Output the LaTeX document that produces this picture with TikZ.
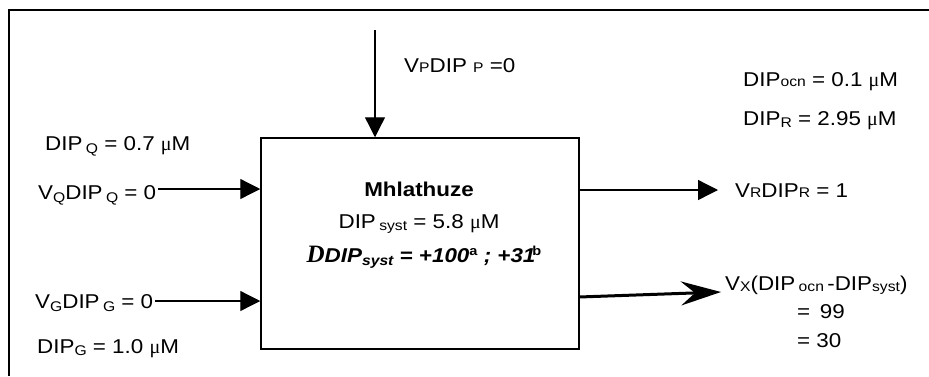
\documentclass[tikz,border=0pt]{standalone}
\usepackage{fontspec}
\setmainfont[FakeStretch=1.12]{Liberation Sans}
\newfontfamily\serifD{Liberation Serif}
\usetikzlibrary{arrows.meta}
\newcommand\sbs[2][3]{\raisebox{-#1pt}{\fontsize{14}{14}\selectfont #2}}
\newcommand\spx[1]{\raisebox{7pt}{\fontsize{13}{13}\selectfont\upshape #1}}
\newcommand\mum{{\serifD μ}M}
\tikzset{
  txt/.style={inner sep=0pt, anchor=base west, font=\fontsize{20}{22}\selectfont},
  ctxt/.style={inner sep=0pt, anchor=base, font=\fontsize{20}{22}\selectfont},
  frame/.style={line width=1.8pt},
  flow/.style={line width=1.3pt, -{Triangle[length=20pt,width=20pt]}},
  bigflow/.style={line width=3pt, -{Stealth[length=40pt,width=24pt,inset=14pt]}},
}
\begin{document}
\begin{tikzpicture}[x=1pt,y=-1pt]
\useasboundingbox (0,0) rectangle (929,376);
% outer frame
\draw[frame] (8,10) -- (929,10);
\draw[frame] (9,10) -- (9,376);
% box
\node[draw, line width=1.5pt, minimum width=318pt, minimum height=211pt, inner sep=0pt] (box) at (420,243.5) {};
\node[ctxt, font=\fontsize{20}{22}\selectfont\bfseries] (name) at (419,196) {Mhlathuze};
\node[ctxt] (syst) at (419,228) {DIP\,\sbs[2]{syst} = 5.8 \mum};
\node[ctxt, font=\fontsize{20}{22}\selectfont\bfseries\itshape] (delta) at (424,262) {{\serifD\fontsize{25}{25}\selectfont D}DIP\sbs[3]{\bfseries\itshape syst} = +100\spx{a} ; +31\kern-3pt\spx{b}};
% top input
\coordinate (ptop) at (375,30);
\draw[flow] (ptop) -- (ptop |- box.north);
\node[txt] (vp) at (404,72) {V{\fontsize{14}{14}\selectfont P}DIP {\fontsize{14}{14}\selectfont P} =0};
% left texts
\node[txt] (dipq) at (45,150) {DIP\,\sbs{Q} = 0.7 \mum};
\node[txt] (vq) at (38,199) {V\sbs{Q}DIP\,\sbs{Q} = 0};
\node[txt] (vg) at (35,308) {V\sbs{G}DIP\,\sbs{G} = 0};
\node[txt] (dipg) at (37,353) {DIP\sbs[2]{G} = 1.0 \mum};
\coordinate (qs) at (158,189);
\coordinate (gs) at (155,301);
\draw[flow] (qs) -- (qs -| box.west);
\draw[flow] (gs) -- (gs -| box.west);
% right texts
\node[txt] (ocn) at (743,86) {DIP{\fontsize{14}{14}\selectfont ocn} = 0.1 \mum};
\node[txt] (dipr) at (743,125) {DIP\sbs[2]{R} = 2.95 \mum};
\node[txt] (vr) at (735,197) {V{\fontsize{14}{14}\selectfont R}DIP{\fontsize{14}{14}\selectfont R} = 1};
\coordinate (rs) at (579,190);
\coordinate (re) at (718,190);
\draw[flow] (rs) -- (re);
\node[txt] (vx) at (725,290) {V\sbs[1]{X}(DIP\,\sbs[1]{ocn}\,-DIP\sbs[1]{syst})};
\node[txt] (v99) at (797,318) {=\, 99};
\node[txt] (v30) at (797,347) {= 30};
\coordinate (xs) at (579,297);
\coordinate (xe) at (721,292);
\draw[bigflow] (xs) -- (xe);
\end{tikzpicture}
\end{document}
